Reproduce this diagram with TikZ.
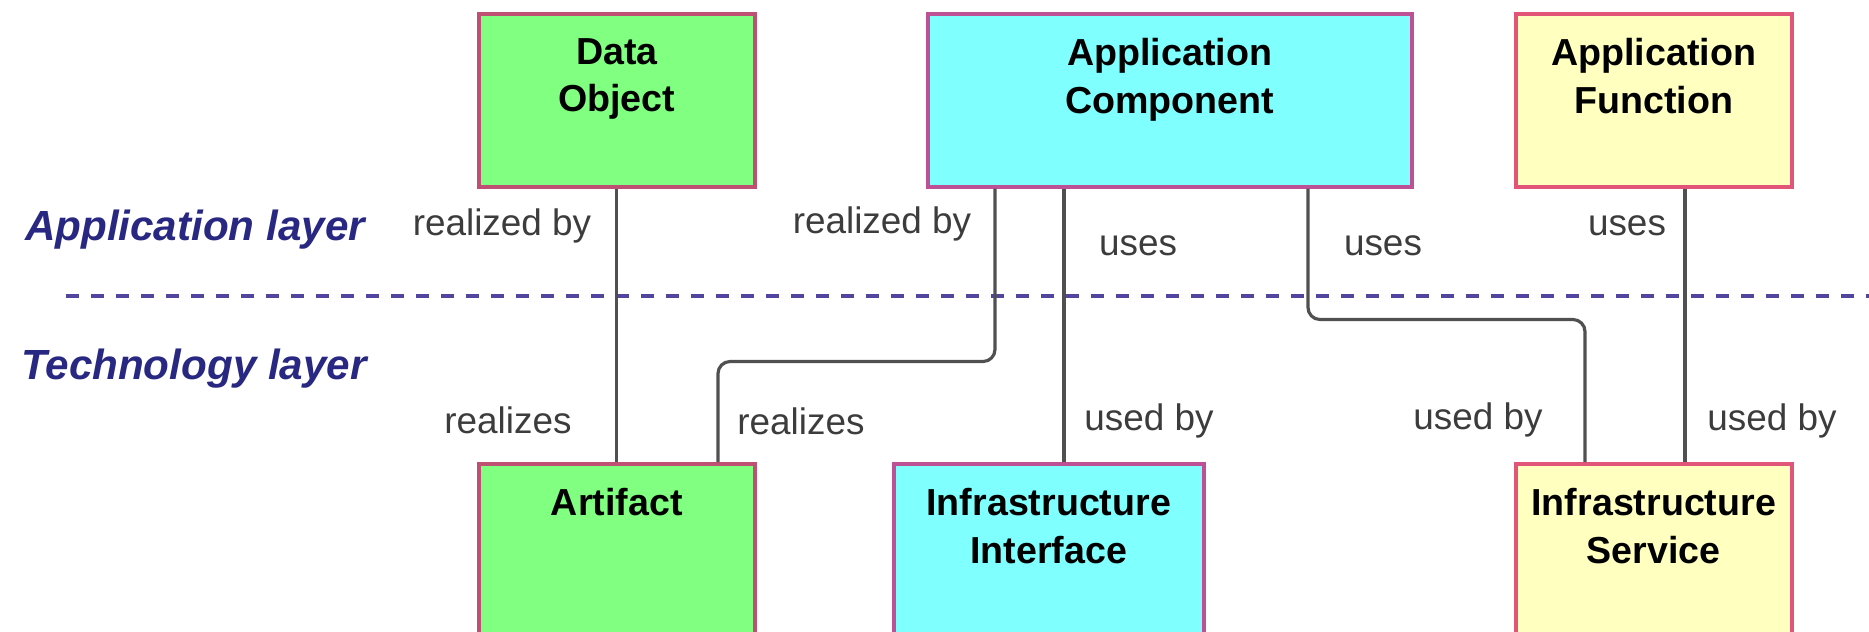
\documentclass[tikz,border=0pt]{standalone}
\usepackage{fontspec}
\setmainfont{Liberation Sans}
\usepackage{xcolor}
\usepackage{tikz}

\definecolor{greenfill}{RGB}{128,255,128}
\definecolor{greenedge}{RGB}{190,80,115}
\definecolor{cyanfill}{RGB}{128,255,255}
\definecolor{cyanedge}{RGB}{190,80,150}
\definecolor{yellowfill}{RGB}{255,255,192}
\definecolor{yellowedge}{RGB}{225,85,120}
\definecolor{layerblue}{RGB}{40,40,130}
\definecolor{dividerblue}{RGB}{80,70,160}
\definecolor{linkgray}{RGB}{80,80,80}
\definecolor{relgray}{RGB}{60,60,60}

\begin{document}
\begin{tikzpicture}[
  elem/.style={draw=#1edge, fill=#1fill, line width=1pt, inner sep=0pt,
    anchor=north west, minimum height=1.73cm},
  boxtext/.style={anchor=north, inner sep=0pt, align=center,
    font=\fontsize{10.7}{13.4}\selectfont\bfseries},
  rel/.style={inner sep=0pt, text=relgray, font=\fontsize{10.5}{12}\selectfont},
  layer/.style={inner sep=0pt, text=layerblue,
    font=\fontsize{12}{14}\selectfont\bfseries\itshape},
  link/.style={draw=linkgray, line width=0.9pt, rounded corners=0.12cm},
  divider/.style={draw=dividerblue, line width=1.1pt, dash pattern=on 0.13cm off 0.12cm}
]
  \useasboundingbox (0,0) rectangle (18.69,-6.31);
  \clip (0,0) rectangle (18.69,-6.31);

  % ---- application layer elements ----
  \node[elem=green, minimum width=2.76cm] (dobj) at (4.77,-0.12) {};
  \node[elem=cyan, minimum width=4.84cm] (acomp) at (9.26,-0.12) {};
  \node[elem=yellow, minimum width=2.76cm] (afun) at (15.14,-0.12) {};
  \node[boxtext] (dobjt) at ([yshift=-0.26cm]dobj.north) {Data\\Object};
  \node[boxtext] (acompt) at ([yshift=-0.26cm]acomp.north) {Application\\Component};
  \node[boxtext] (afunt) at ([yshift=-0.26cm]afun.north) {Application\\Function};

  % ---- technology layer elements ----
  \node[elem=green, minimum width=2.76cm] (art) at (4.77,-4.62) {};
  \node[elem=cyan, minimum width=3.10cm] (iint) at (8.92,-4.62) {};
  \node[elem=yellow, minimum width=2.76cm] (isvc) at (15.14,-4.62) {};
  \node[boxtext] (artt) at ([yshift=-0.26cm]art.north) {Artifact};
  \node[boxtext] (iintt) at ([yshift=-0.26cm]iint.north) {Infrastructure\\Interface};
  \node[boxtext] (isvct) at ([yshift=-0.26cm]isvc.north) {Infrastructure\\Service};

  % ---- layer divider ----
  \draw[divider] (0.66,-2.96) -- (18.69,-2.96);
  \node[layer] (applayer) at (1.95,-2.30) {Application layer};
  \node[layer] (techlayer) at (1.94,-3.69) {Technology layer};

  % ---- relations ----
  \draw[link] (dobj.south) -- (art.north);
  \draw[link] ([xshift=0.69cm]acomp.south west) -- ++(0,-1.73) -| ([xshift=2.41cm]art.north west);
  \draw[link] ([xshift=1.38cm]acomp.south west) -- ([xshift=1.72cm]iint.north west);
  \draw[link] ([xshift=3.82cm]acomp.south west) -- ++(0,-1.31) -| ([xshift=0.71cm]isvc.north west);
  \draw[link] ([xshift=1.71cm]afun.south west) -- ([xshift=1.71cm]isvc.north west);

  % ---- relation names ----
  \foreach \x/\y/\nm/\txt in {5.02/-2.26/rba/realized by, 8.82/-2.24/rbb/realized by,
      11.38/-2.46/usa/uses, 13.83/-2.46/usb/uses, 16.27/-2.26/usc/uses,
      5.08/-4.20/rza/realizes, 8.01/-4.21/rzb/realizes,
      11.49/-4.21/uba/used by, 14.78/-4.20/ubb/used by, 17.72/-4.21/ubc/used by} {
    \node[rel] (\nm) at (\x,\y) {\txt};
  }
\end{tikzpicture}
\end{document}
